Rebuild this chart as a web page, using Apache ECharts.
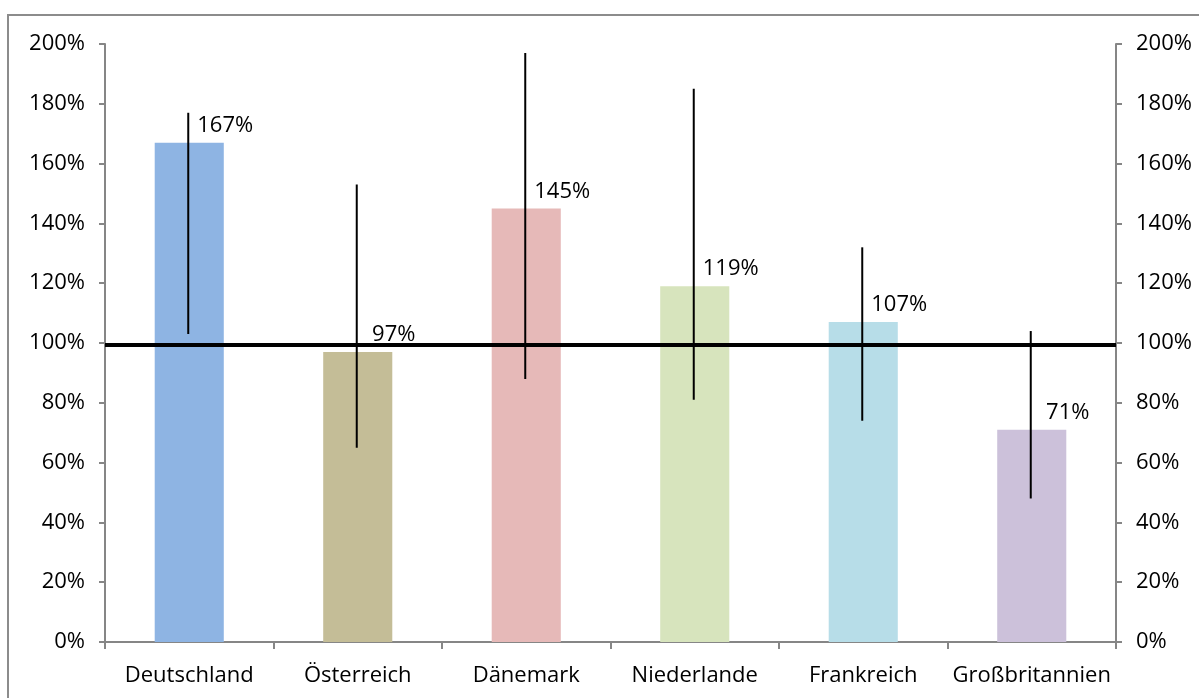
<!DOCTYPE html>
<html><head><meta charset="utf-8">
<script src="https://cdn.jsdelivr.net/npm/echarts@6/dist/echarts.min.js"></script>
<style>html,body{margin:0;padding:0;background:#fff}#c{width:1199px;height:698px}</style>
</head><body><div id="c"></div>
<script>
const categories = ['Deutschland', 'Österreich', 'Dänemark', 'Niederlande', 'Frankreich', 'Großbritannien'];
const values = [167, 97, 145, 119, 107, 71];
const errLow = [103, 65, 88, 81, 74, 48];
const errHigh = [177, 153, 197, 185, 132, 104];
const refLine = 99.5;
const yTicks = [0, 20, 40, 60, 80, 100, 120, 140, 160, 180, 200];
const barColors = ['#8EB4E3', '#C4BD97', '#E6B9B8', '#D7E4BD', '#B7DDE8', '#CCC1DA'];

const FONT = 'Open Sans';
const axisGray = '#868686';
const chart = echarts.init(document.getElementById('c'));
const yAxisBase = {
  type: 'value', min: yTicks[0], max: yTicks[yTicks.length - 1], interval: yTicks[1] - yTicks[0],
  splitLine: { show: false },
  axisLine: { show: true, lineStyle: { color: axisGray, width: 2 } },
  axisTick: { show: true, length: 6, lineStyle: { color: axisGray, width: 2 } },
  axisLabel: { formatter: v => v + '%', color: '#000', fontFamily: FONT, fontSize: 22, margin: 20 }
};
chart.setOption({
  animation: false,
  graphic: [{ type: 'rect', shape: { x: 8, y: 15, width: 1300, height: 800 }, style: { fill: 'none', stroke: '#8c8c8c', lineWidth: 2 }, z: 0 }],
  grid: { left: 105, right: 83, top: 44, bottom: 56 },
  xAxis: {
    type: 'category', data: categories, boundaryGap: true,
    axisLine: { lineStyle: { color: axisGray, width: 2 } },
    axisTick: { show: true, length: 7, alignWithLabel: false, lineStyle: { color: axisGray, width: 2 } },
    axisLabel: { color: '#000', fontFamily: FONT, fontSize: 22, margin: 23, interval: 0 }
  },
  yAxis: [
    Object.assign({}, yAxisBase, { position: 'left' }),
    Object.assign({}, yAxisBase, { position: 'right' })
  ],
  series: [
    {
      type: 'bar', barWidth: '41%', z: 2,
      data: values.map((v, i) => ({ value: v, itemStyle: { color: barColors[i] } })),
      label: { show: true, position: 'top', distance: 6, offset: [36, 0], formatter: p => p.value + '%', color: '#000', fontFamily: FONT, fontSize: 22 },
      markLine: {
        silent: true, symbol: ['none', 'none'], label: { show: false },
        lineStyle: { color: '#000', width: 4, type: 'solid' },
        data: [{ yAxis: refLine }]
      }
    },
    {
      type: 'custom', z: 3,
      data: categories.map((c, i) => [i, errLow[i], errHigh[i]]),
      renderItem: (params, api) => {
        const p1 = api.coord([api.value(0), api.value(1)]);
        const p2 = api.coord([api.value(0), api.value(2)]);
        return { type: 'line', shape: { x1: p1[0] - 1, y1: p1[1], x2: p2[0] - 1, y2: p2[1] }, style: { stroke: '#000', lineWidth: 2 } };
      },
      encode: { x: 0, y: [1, 2] }
    }
  ]
});
</script></body></html>
